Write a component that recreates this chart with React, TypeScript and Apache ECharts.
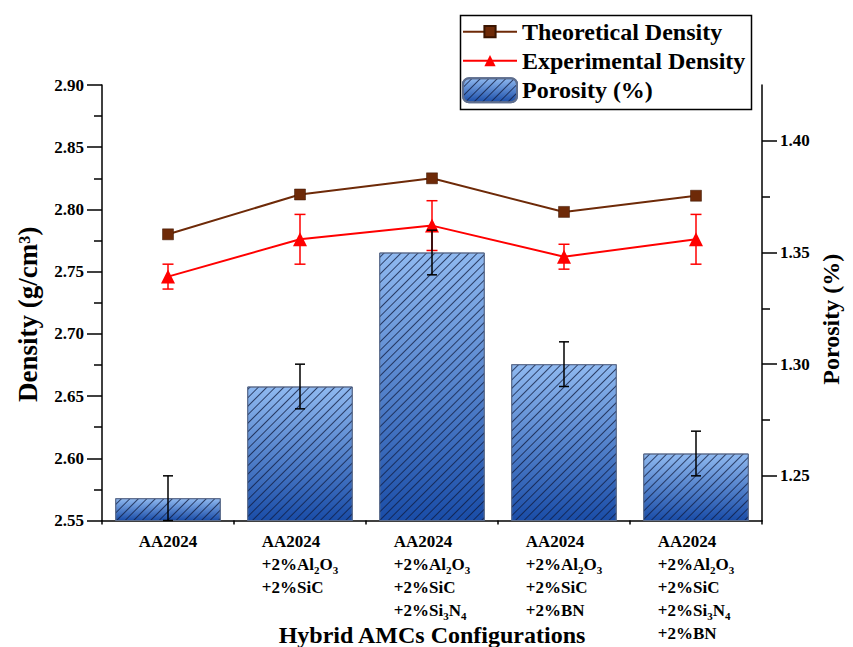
import React, { useEffect, useRef } from 'react';
import * as echarts from 'echarts';

const categories = [
  'AA2024',
  'AA2024\n+2%Al2O3\n+2%SiC',
  'AA2024\n+2%Al2O3\n+2%SiC\n+2%Si3N4',
  'AA2024\n+2%Al2O3\n+2%SiC\n+2%BN',
  'AA2024\n+2%Al2O3\n+2%SiC\n+2%Si3N4\n+2%BN',
];
const theoreticalDensity = [2.78, 2.812, 2.825, 2.798, 2.811];
const experimentalDensity = [2.746, 2.776, 2.787, 2.762, 2.776];
const experimentalError = [0.01, 0.02, 0.02, 0.01, 0.02];
const porosity = [1.24, 1.29, 1.35, 1.3, 1.26];
const porosityError = [0.01, 0.01, 0.01, 0.01, 0.01];
const porosityTickValues = [1.25, 1.3, 1.35, 1.4];
const porosityMinorTickValues = [1.275, 1.325, 1.375];

const FONT = "'Liberation Serif', 'Times New Roman', serif";
const BROWN = '#6E2A08';
const RED = '#FF0000';

function toRich(line: string): string {
  let out = '';
  let buf = '';
  for (let i = 0; i < line.length; i++) {
    const ch = line[i];
    const prev = line.slice(0, i);
    if (/\d/.test(ch) && /(Al|Si|O|N)$/.test(prev)) {
      if (buf) {
        out += `{t|${buf}}`;
        buf = '';
      }
      out += `{s|${ch}}`;
    } else {
      buf += ch;
    }
  }
  if (buf) out += `{t|${buf}}`;
  return out;
}

function errorRender(color: string, cap: number, width: number) {
  return (params: any, api: any) => {
    const x = api.value(0);
    const lo = api.value(1);
    const hi = api.value(2);
    const top = api.coord([x, hi]);
    const bot = api.coord([x, lo]);
    const style = { stroke: color, lineWidth: width };
    return {
      type: 'group',
      children: [
        { type: 'line', shape: { x1: top[0], y1: top[1], x2: bot[0], y2: bot[1] }, style },
        { type: 'line', shape: { x1: top[0] - cap / 2, y1: top[1], x2: top[0] + cap / 2, y2: top[1] }, style },
        { type: 'line', shape: { x1: bot[0] - cap / 2, y1: bot[1], x2: bot[0] + cap / 2, y2: bot[1] }, style },
      ],
    };
  };
}

export default function App() {
  const ref = useRef<HTMLDivElement>(null);
  useEffect(() => {
    if (!ref.current) return;
    const chart = echarts.init(ref.current, undefined, { renderer: 'svg' });
    const axisLineStyle = { color: '#000', width: 1.5 };
    const tickLabel = { fontFamily: FONT, fontWeight: 'bold' as const, fontSize: 17, color: '#000' };
    const legendText = { fontFamily: FONT, fontWeight: 'bold' as const, fontSize: 24, color: '#000', lineHeight: 24 };

    const porosityErrData = porosity.map((v, i) => [i, v - porosityError[i], v + porosityError[i]]);
    const expErrData = experimentalDensity.map((v, i) => [i, v - experimentalError[i], v + experimentalError[i]]);

    chart.setOption({
      animation: false,
      backgroundColor: '#fff',
      grid: { left: 102, right: 91, top: 85, bottom: 126.5, containLabel: false, outerBoundsMode: 'none' },
      legend: [
        {
          data: ['Theoretical Density', 'Experimental Density'],
          orient: 'vertical',
          left: 462,
          top: 19.7,
          padding: 0,
          itemWidth: 54,
          itemHeight: 14,
          itemGap: 5,
          itemTextGap: 7,
          textStyle: legendText,
          selectedMode: false,
        },
        {
          data: ['Porosity (%)'],
          orient: 'vertical',
          left: 462,
          top: 77.3,
          padding: 0,
          itemWidth: 54,
          itemHeight: 24,
          itemTextGap: 7,
          textStyle: legendText,
          selectedMode: false,
        },
      ],
      graphic: [
        {
          type: 'rect',
          left: 458,
          top: 13,
          shape: { x: 0, y: 0, width: 291, height: 94 },
          style: { fill: 'none', stroke: '#000', lineWidth: 1.5 },
          z: 10,
        },
      ],
      xAxis: [
        {
          type: 'category',
          data: categories,
          position: 'bottom',
          axisLine: { lineStyle: axisLineStyle },
          axisTick: { alignWithLabel: true, length: 8, lineStyle: axisLineStyle },
          axisLabel: {
            interval: 0,
            margin: 9,
            formatter: (v: string) => v.split('\n').map(toRich).join('\n'),
            rich: {
              t: { fontFamily: FONT, fontWeight: 'bold', fontSize: 17, lineHeight: 23, align: 'left', color: '#000' },
              s: { fontFamily: FONT, fontWeight: 'bold', fontSize: 11, lineHeight: 15, verticalAlign: 'bottom', align: 'left', color: '#000' },
            },
          },
          splitLine: { show: false },
          name: 'Hybrid AMCs Configurations',
          nameLocation: 'middle',
          nameGap: 104,
          nameMoveOverlap: false,
          nameTextStyle: { fontFamily: FONT, fontWeight: 'bold', fontSize: 24, lineHeight: 20, color: '#000' },
        },
        {
          type: 'category',
          data: categories,
          position: 'bottom',
          axisLine: { show: false },
          axisTick: { show: true, alignWithLabel: false, length: 4, lineStyle: axisLineStyle },
          axisLabel: { show: false },
          splitLine: { show: false },
        },
      ],
      yAxis: [
        {
          type: 'value',
          position: 'left',
          min: 2.55,
          max: 2.9,
          interval: 0.05,
          axisLine: { show: true, lineStyle: axisLineStyle },
          axisTick: { show: true, length: 15, lineStyle: axisLineStyle },
          minorTick: { show: true, splitNumber: 2, length: 8, lineStyle: axisLineStyle },
          axisLabel: { ...tickLabel, margin: 18, formatter: (v: number) => v.toFixed(2) },
          splitLine: { show: false },
          name: 'Density (g/cm³)',
          nameLocation: 'middle',
          nameRotate: 90,
          nameGap: 61,
          nameMoveOverlap: false,
          nameTextStyle: { fontFamily: FONT, fontWeight: 'bold', fontSize: 27, color: '#000', padding: [0, 23, 0, 0] },
        },
        {
          type: 'value',
          position: 'right',
          min: 1.23,
          max: 1.425,
          axisLine: { show: true, lineStyle: axisLineStyle },
          axisTick: { show: true, length: 15, lineStyle: axisLineStyle, customValues: porosityTickValues },
          axisLabel: { ...tickLabel, margin: 18, customValues: porosityTickValues, formatter: (v: number) => v.toFixed(2) },
          splitLine: { show: false },
          name: 'Porosity (%)',
          nameLocation: 'middle',
          nameRotate: 90,
          nameGap: 57,
          nameMoveOverlap: false,
          nameTextStyle: { fontFamily: FONT, fontWeight: 'bold', fontSize: 24, color: '#000', padding: [0, 33, 0, 0] },
        },
        {
          type: 'value',
          position: 'right',
          min: 1.23,
          max: 1.425,
          axisLine: { show: false },
          axisTick: { show: true, length: 8, lineStyle: axisLineStyle, customValues: porosityMinorTickValues },
          axisLabel: { show: false, customValues: porosityMinorTickValues },
          splitLine: { show: false },
        },
      ],
      series: [
        {
          name: 'Porosity (%)',
          type: 'bar',
          xAxisIndex: 0,
          yAxisIndex: 1,
          data: porosity,
          barWidth: '80%',
          z: 2,
          itemStyle: {
            color: new echarts.graphic.LinearGradient(0, 0, 0, 1, [
              { offset: 0, color: '#8FB9F0' },
              { offset: 1, color: '#1A4DA8' },
            ]),
            borderColor: '#5E6E8E',
            borderWidth: 1,
            decal: {
              symbol: 'rect',
              symbolSize: 1,
              dashArrayX: [1, 0],
              dashArrayY: [1, 5],
              rotation: -Math.PI / 4,
              color: 'rgba(15, 25, 60, 0.75)',
            },
          },
        },
        {
          name: 'Theoretical Density',
          type: 'line',
          xAxisIndex: 0,
          yAxisIndex: 0,
          data: theoreticalDensity,
          symbol: 'rect',
          symbolSize: 11,
          z: 3,
          lineStyle: { color: BROWN, width: 2 },
          itemStyle: { color: BROWN, borderColor: '#3A1400', borderWidth: 0.5 },
        },
        {
          name: 'Experimental Density',
          type: 'line',
          xAxisIndex: 0,
          yAxisIndex: 0,
          data: experimentalDensity,
          symbol: 'triangle',
          symbolSize: 14,
          z: 3,
          lineStyle: { color: RED, width: 2 },
          itemStyle: { color: RED },
        },
        {
          name: 'Experimental Error',
          type: 'custom',
          xAxisIndex: 0,
          yAxisIndex: 0,
          data: expErrData,
          encode: { x: 0, y: [1, 2] },
          renderItem: errorRender(RED, 11, 1.5),
          z: 4,
        },
        {
          name: 'Porosity Error',
          type: 'custom',
          xAxisIndex: 0,
          yAxisIndex: 1,
          data: porosityErrData,
          encode: { x: 0, y: [1, 2] },
          renderItem: errorRender('#000', 10, 1.5),
          z: 5,
        },
      ],
    });
    return () => chart.dispose();
  }, []);
  return <div ref={ref} style={{ position: 'fixed', left: 0, top: 0, width: 853, height: 647 }} />;
}
